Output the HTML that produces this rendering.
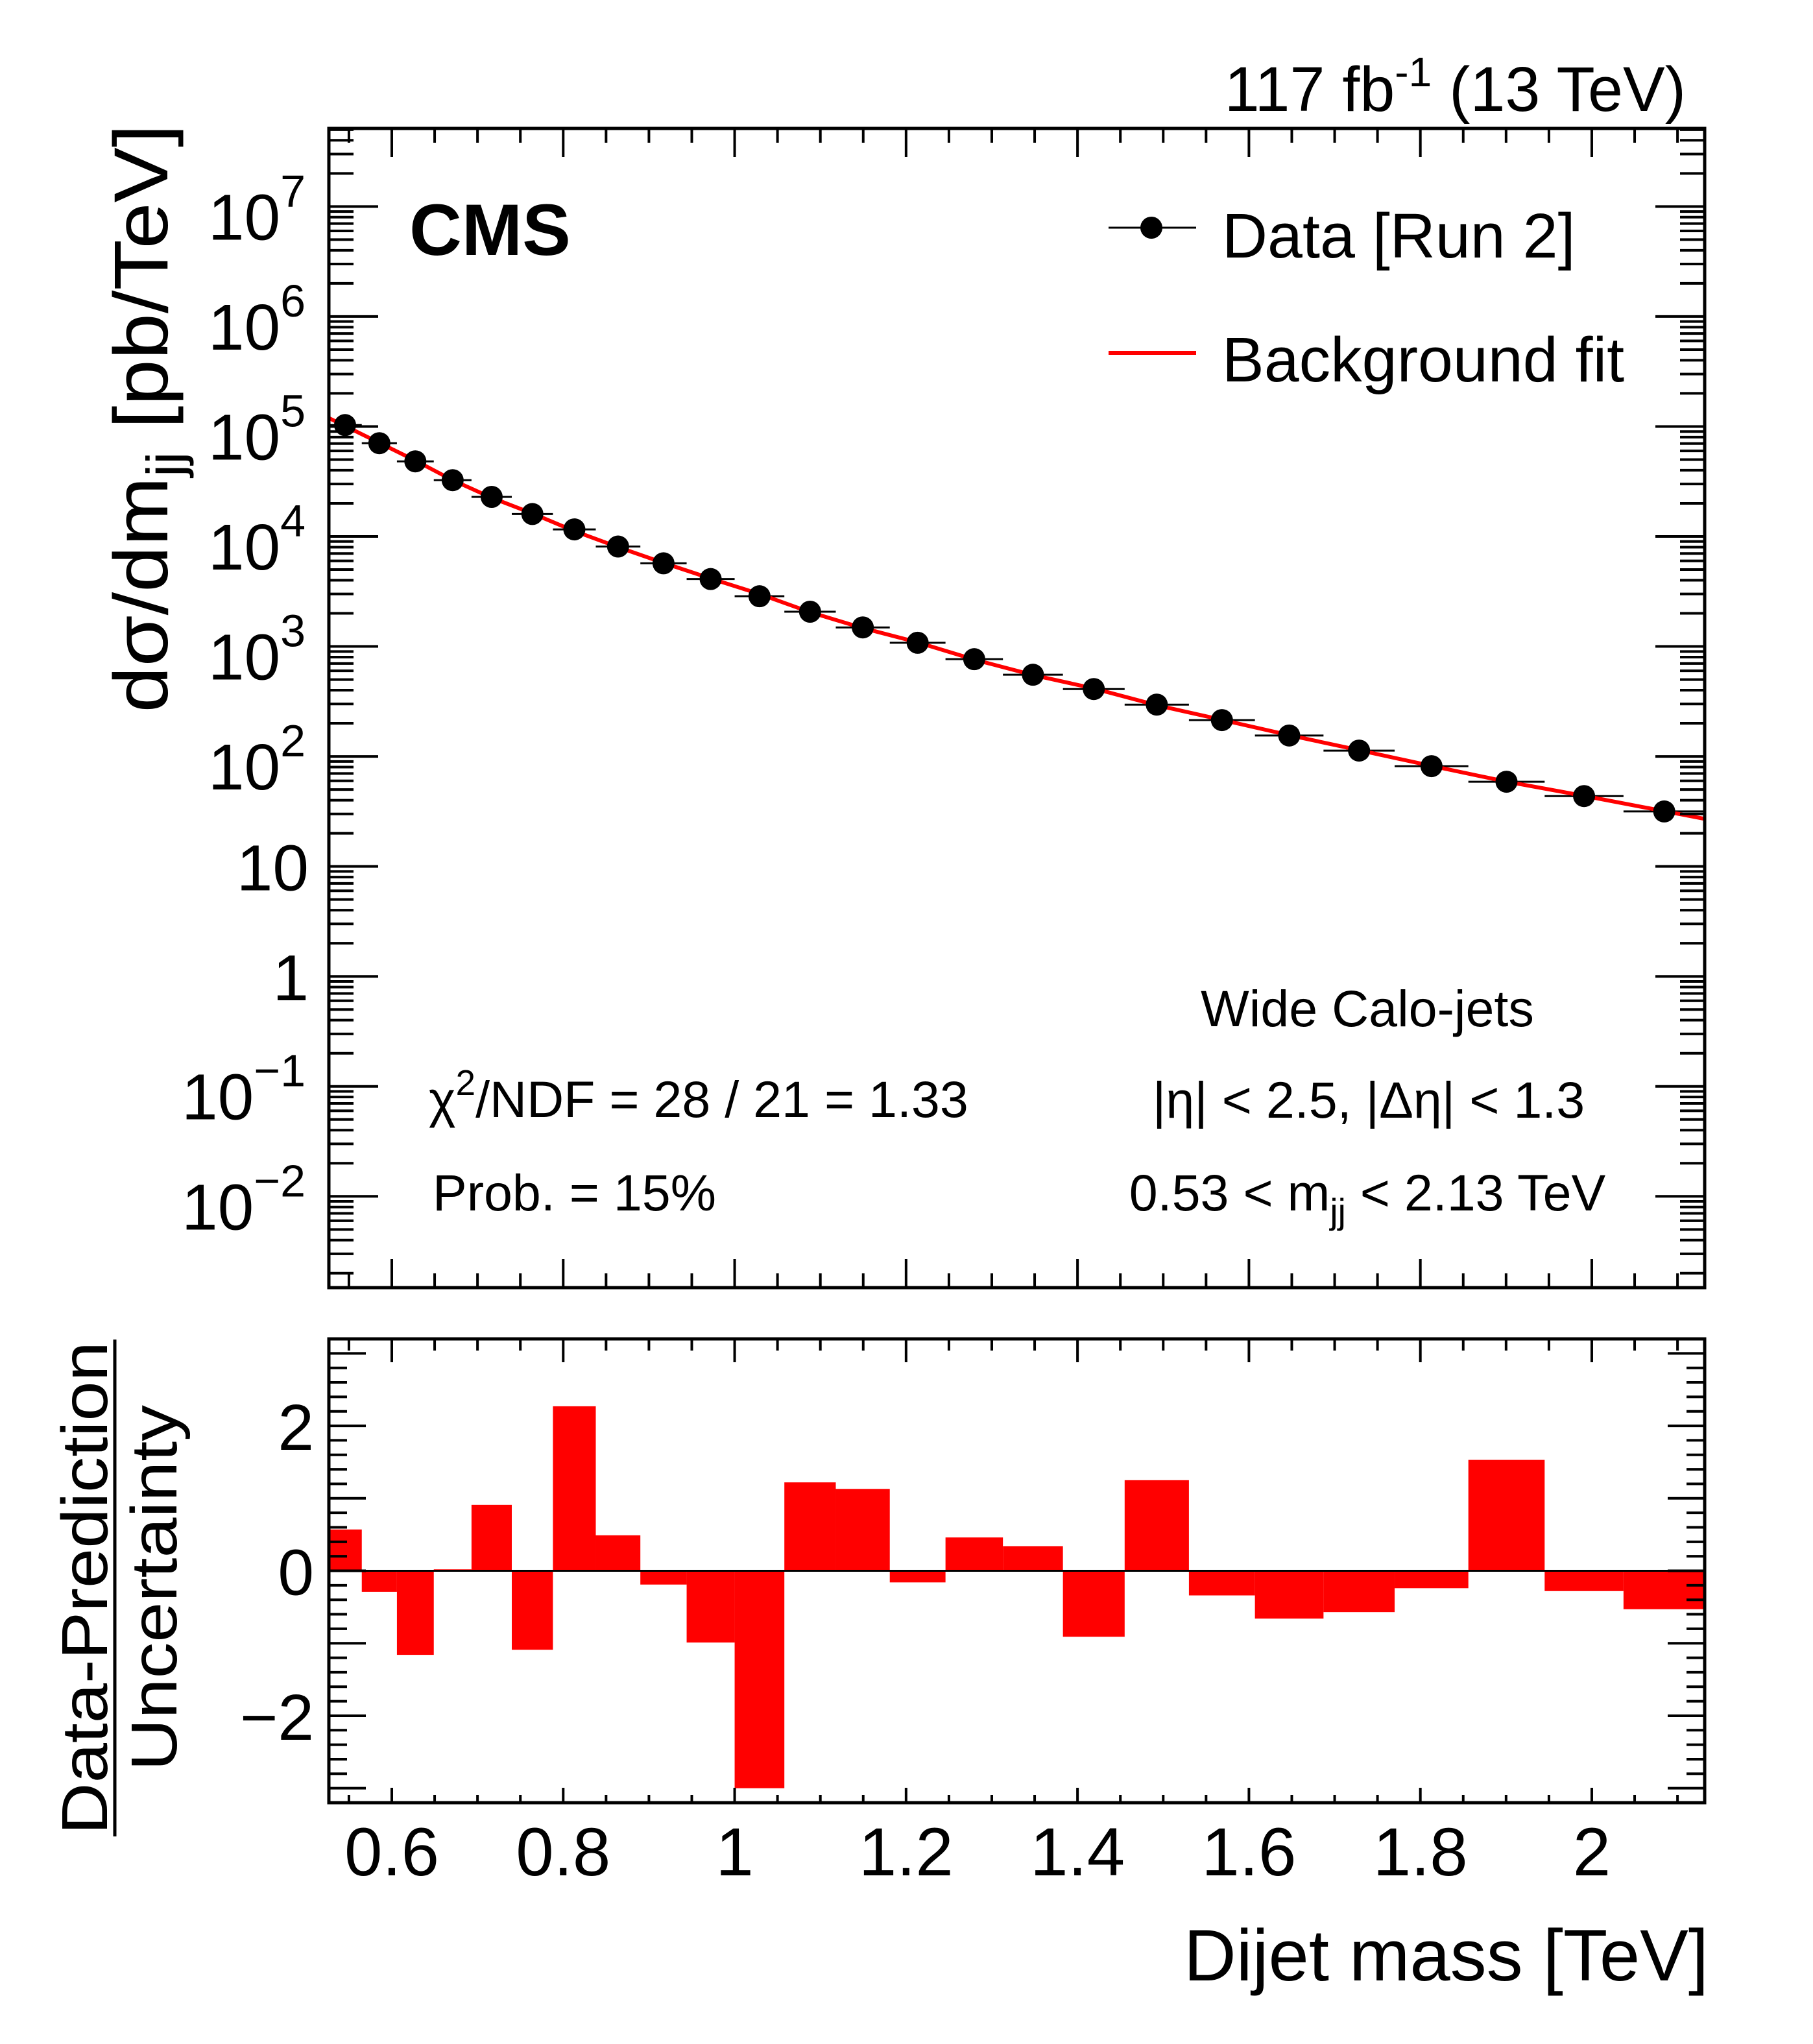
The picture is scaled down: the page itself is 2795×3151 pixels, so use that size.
<!DOCTYPE html>
<html><head><meta charset="utf-8"><style>
html,body{margin:0;padding:0;background:#fff;}
svg{display:block;font-family:"Liberation Sans",Arial,sans-serif;}
</style></head><body>
<svg id="chart" width="2795" height="3151" viewBox="0 0 2795 3151" xmlns="http://www.w3.org/2000/svg">
<rect x="0" y="0" width="2795" height="3151" fill="#fff"/>
<g id="g-main"></g>
<g id="g-ratio"></g>
<text x="2599" y="171" font-size="97" text-anchor="end">117 fb<tspan font-size="64" dy="-38">-1</tspan><tspan dy="38"> (13 TeV)</tspan></text>
<text x="631" y="393" font-size="112" font-weight="bold">CMS</text>
<g>
<line x1="1709" y1="351" x2="1844" y2="351" stroke="#000" stroke-width="3"/>
<circle cx="1775" cy="351" r="17" fill="#000"/>
<text x="1884" y="397" font-size="97">Data [Run 2]</text>
<line x1="1709" y1="544" x2="1844" y2="544" stroke="#f00" stroke-width="6"/>
<text x="1884" y="588" font-size="97">Background fit</text>
</g>
<text x="2108" y="1582" font-size="79" text-anchor="middle">Wide Calo-jets</text>
<text x="2110" y="1723" font-size="79" text-anchor="middle">|η| &lt; 2.5, |Δη| &lt; 1.3</text>
<text x="2108" y="1866" font-size="79" text-anchor="middle">0.53 &lt; m<tspan font-size="55" dy="20">jj</tspan><tspan dy="-20"> &lt; 2.13 TeV</tspan></text>
<text x="661" y="1722" font-size="79">χ<tspan font-size="55" dy="-34">2</tspan><tspan dy="34">/NDF = 28 / 21 = 1.33</tspan></text>
<text x="667" y="1866" font-size="79">Prob. = 15%</text>
<text transform="translate(258,645) rotate(-90)" font-size="118" text-anchor="middle" textLength="907" lengthAdjust="spacingAndGlyphs">dσ/dm<tspan font-size="80" dy="24">jj</tspan><tspan dy="-24"> [pb/TeV]</tspan></text>
<text transform="translate(165,2448) rotate(-90)" font-size="100" text-anchor="middle" textLength="760" lengthAdjust="spacingAndGlyphs">Data-Prediction</text>
<line x1="177" y1="2065" x2="177" y2="2831" stroke="#000" stroke-width="5"/>
<text transform="translate(272,2448) rotate(-90)" font-size="100" text-anchor="middle" textLength="564" lengthAdjust="spacingAndGlyphs">Uncertainty</text>
<text x="2634" y="3053" font-size="112" text-anchor="end">Dijet mass [TeV]</text>
</svg>
<script>
const binEdges = [0.526,0.565,0.606,0.649,0.693,0.740,0.788,0.838,0.890,0.944,1.000,1.058,1.118,1.181,1.246,1.313,1.383,1.455,1.530,1.607,1.687,1.770,1.856,1.945,2.037,2.132];
const dataValues = [1.03e5,7.05e4,4.82e4,3.25e4,2.29e4,1.60e4,1.16e4,8.1e3,5.7e3,4.1e3,2.86e3,2.07e3,1.49e3,1.08e3,766,553,410,296,214,155,113,81.6,58.9,43.6,31.6];
const fitValues = [1.01e5,7.1e4,4.9e4,3.25e4,2.25e4,1.62e4,1.12e4,8.0e3,5.75e3,4.15e3,3.0e3,2.05e3,1.47e3,1.09e3,760,550,415,292,215,156,114,82,59,43.8,31.8];
const pullValues = [0.57,-0.29,-1.16,0.02,0.91,-1.09,2.27,0.49,-0.19,-0.99,-3.0,1.22,1.13,-0.16,0.46,0.34,-0.91,1.25,-0.34,-0.66,-0.57,-0.24,1.53,-0.28,-0.53];
const xTickLabels = ["0.6","0.8","1","1.2","1.4","1.6","1.8","2"];
const xTickValues = [0.6,0.8,1.0,1.2,1.4,1.6,1.8,2.0];
const yLogTickExps = [-2,-1,0,1,2,3,4,5,6,7];
const pullTickValues = [-2,0,2];
const pullTickLabels = ["\u22122","0","2"];

const NS="http://www.w3.org/2000/svg";
const L=507,R=2628,T1=198,B1=1985,T2=2064,B2=2779;
const xMin=0.5266,xMax=2.1317;
const logMin=-2.83,logMax=7.71;
const pMin=-3.2,pMax=3.2;
const X=v=>L+(v-xMin)/(xMax-xMin)*(R-L);
const Y1=v=>B1-(Math.log10(v)-logMin)/(logMax-logMin)*(B1-T1);
const Y2=v=>B2-(v-pMin)/(pMax-pMin)*(B2-T2);
function mk(tag,attrs,parent){const e=document.createElementNS(NS,tag);for(const k in attrs)e.setAttribute(k,attrs[k]);parent.appendChild(e);return e;}
const gm=document.getElementById('g-main'), gr=document.getElementById('g-ratio');

// pull bars
pullValues.forEach((p,i)=>{
 const x0=X(binEdges[i]),x1=X(binEdges[i+1]);
 const r=mk('rect',{x:x0,y:Math.min(Y2(p),Y2(0)),width:x1-x0,height:Math.abs(Y2(p)-Y2(0)),fill:'#f00'},gr);
 
 
});
const zl=mk('line',{x1:L,y1:Y2(0),x2:R,y2:Y2(0),stroke:'#000','stroke-width':3},gr);



// fit line
const centers=binEdges.slice(0,-1).map((e,i)=>(e+binEdges[i+1])/2);
let pts=[];
const n=fitValues.length;
const lf0=Math.log10(fitValues[0])+(Math.log10(fitValues[0])-Math.log10(fitValues[1]))/(centers[1]-centers[0])*(centers[0]-binEdges[0]);
pts.push([X(binEdges[0]),Y1(Math.pow(10,lf0))]);
centers.forEach((c,i)=>pts.push([X(c),Y1(fitValues[i])]));
const lfn=Math.log10(fitValues[n-1])-(Math.log10(fitValues[n-2])-Math.log10(fitValues[n-1]))/(centers[n-1]-centers[n-2])*(binEdges[n]-centers[n-1]);
pts.push([X(binEdges[n]),Y1(Math.pow(10,lfn))]);

// data error bars + points
dataValues.forEach((v,i)=>{
 const l=mk('line',{x1:X(binEdges[i]),x2:X(binEdges[i+1]),y1:Y1(v),y2:Y1(v),stroke:'#000','stroke-width':3},gm);
 
 
});
const fl=mk('polyline',{points:pts.map(p=>p.join(',')).join(' '),fill:'none',stroke:'#f00','stroke-width':6},gm);


dataValues.forEach((v,i)=>{
 const c=mk('circle',{cx:X(centers[i]),cy:Y1(v),r:17,fill:'#000'},gm);
 
 
});

// frames
[[T1,B1,gm],[T2,B2,gr]].forEach(([t,b,g])=>{
 const f=mk('rect',{x:L,y:t,width:R-L,height:b-t,fill:'none',stroke:'#000','stroke-width':5},g);
 
 
});

// x ticks
function xticks(t,b,majT,minT,majB,minB,g){
 for(let k=11;k<=42;k++){const v=k*0.05;if(v<xMin||v>xMax)continue;
  const major=(k%4===0);const x=X(v);
  mk('line',{x1:x,x2:x,y1:b,y2:b-(major?majB:minB),stroke:'#000','stroke-width':4},g);
  mk('line',{x1:x,x2:x,y1:t,y2:t+(major?majT:minT),stroke:'#000','stroke-width':4},g);}
}
xticks(T1,B1,44,22,44,22,gm);
xticks(T2,B2,36,18,23,12,gr);

// y ticks log
for(let e=-3;e<=7;e++){for(let m=1;m<=9;m++){const v=m*Math.pow(10,e);const lv=Math.log10(v);if(lv<logMin||lv>logMax)continue;
 const y=Y1(v);const len=m===1?76:38;
 mk('line',{x1:L,x2:L+len,y1:y,y2:y,stroke:'#000','stroke-width':4},gm);
 mk('line',{x1:R,x2:R-len,y1:y,y2:y,stroke:'#000','stroke-width':4},gm);}}
yLogTickExps.forEach(e=>{
 const y=Y1(Math.pow(10,e));
 const t=mk('text',{x:476,'text-anchor':'end','font-size':100},gm);
 
 
 if(e===0){t.setAttribute('y',y+37);t.textContent='1';}
 else if(e===1){t.setAttribute('y',y+37);t.textContent='10';}
 else{t.setAttribute('y',y+51);t.setAttribute('x',471);
  const a=mk('tspan',{},t);a.textContent='10';
  const b=mk('tspan',{'font-size':70,dy:-51},t);b.textContent=(e<0?'\u2212':'')+Math.abs(e);}
});
// pull y ticks
for(let k=-16;k<=16;k++){const v=k*0.2;const y=Y2(v);const major=(k%5===0);const len=major?57:28;
 mk('line',{x1:L,x2:L+len,y1:y,y2:y,stroke:'#000','stroke-width':4},gr);
 mk('line',{x1:R,x2:R-len,y1:y,y2:y,stroke:'#000','stroke-width':4},gr);}
pullTickValues.forEach((v,i)=>{
 const t=mk('text',{x:484,y:Y2(v)+37,'text-anchor':'end','font-size':100},gr);
 
 
 t.textContent=pullTickLabels[i];
});
xTickValues.forEach((v,i)=>{
 const t=mk('text',{x:X(v),y:2891,'text-anchor':'middle','font-size':105},gr);
 
 
 t.textContent=xTickLabels[i];
});
</script>
</body></html>
